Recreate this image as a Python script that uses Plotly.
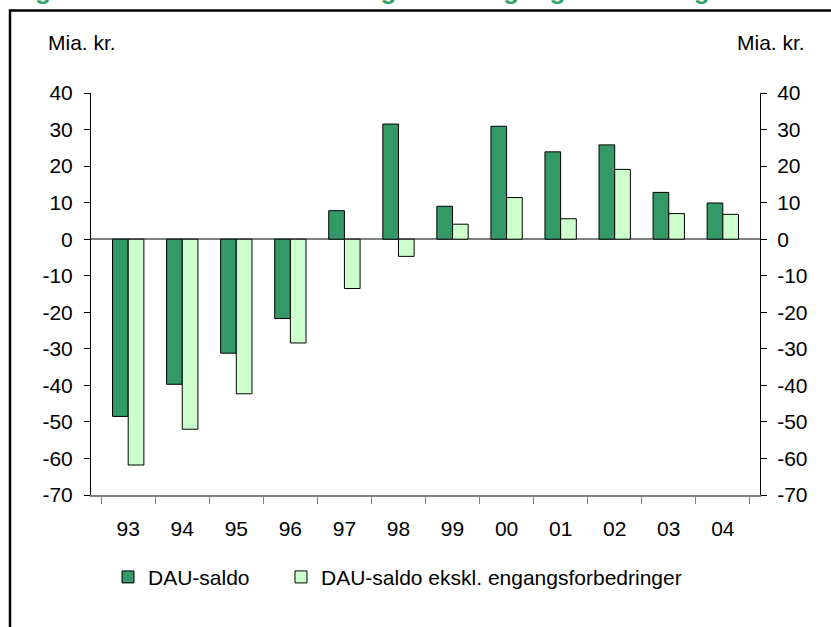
import plotly.graph_objects as go

years = ["93", "94", "95", "96", "97", "98", "99", "00", "01", "02", "03", "04"]
dau_saldo = [-48.5, -39.7, -31.2, -21.7, 7.8, 31.5, 9.0, 30.9, 23.9, 25.8, 12.8, 9.9]
dau_ekskl = [-61.8, -52.0, -42.3, -28.4, -13.5, -4.7, 4.1, 11.4, 5.6, 19.1, 7.0, 6.8]
names = ["DAU-saldo", "DAU-saldo ekskl. engangsforbedringer"]
y_ticks = [40, 30, 20, 10, 0, -10, -20, -30, -40, -50, -60, -70]
y_tick_labels = ["40", "30", "20", "10", "0", "-10", "-20", "-30", "-40", "-50", "-60", "-70"]
unit_label = "Mia. kr."
title_text = "Figur 3.4\u00a0\u00a0\u00a0\u00a0\u00a0\u00a0DAU-saldo med og uden engangsforbedringer"

W, H = 831, 627
L, R, T, B = 91, 71, 92.5, 132.3
pw, ph = W - L - R, H - T - B

def px(x):
    return (x - L) / pw

def py(y):
    return (H - B - y) / ph

FONT = "Liberation Sans, Arial, sans-serif"

fig = go.Figure()
fig.add_trace(go.Bar(x=years, y=dau_saldo, name=names[0], legend="legend",
                     marker=dict(color="#339966", line=dict(color="black", width=1))))
fig.add_trace(go.Bar(x=years, y=dau_ekskl, name=names[1], legend="legend2",
                     marker=dict(color="#CCFFCC", line=dict(color="black", width=1))))
fig.add_trace(go.Scatter(x=years, y=dau_saldo, yaxis="y2", mode="markers",
                         marker=dict(opacity=0), showlegend=False, hoverinfo="skip"))

legend_common = dict(orientation="h", xanchor="left", y=py(577), yanchor="middle",
                     font=dict(size=21), bgcolor="rgba(0,0,0,0)")

fig.update_layout(
    width=W, height=H,
    margin=dict(l=L, r=R, t=T, b=B),
    paper_bgcolor="white", plot_bgcolor="white",
    barmode="group", bargap=0.42, bargroupgap=0,
    font=dict(family=FONT, size=21, color="black"),
    showlegend=True,
    legend=dict(x=px(108), **legend_common),
    legend2=dict(x=px(281), **legend_common),
    xaxis=dict(type="category", showline=True, linecolor="#808080", linewidth=2,
               ticks="outside", ticklen=7, tickcolor="#808080", tickwidth=1,
               tickson="boundaries", showgrid=False, zeroline=False,
               tickfont=dict(size=21), ticklabelstandoff=14),
    yaxis=dict(range=[-70, 40], tickvals=y_ticks, ticktext=y_tick_labels,
               showline=True, linecolor="black", linewidth=1,
               ticks="outside", ticklen=6, tickcolor="black", showgrid=False,
               zeroline=True, zerolinecolor="#808080", zerolinewidth=2,
               tickfont=dict(size=21), ticklabelstandoff=7),
    yaxis2=dict(range=[-70, 40], tickvals=y_ticks, ticktext=y_tick_labels,
                overlaying="y", side="right",
                showline=True, linecolor="black", linewidth=1,
                ticks="outside", ticklen=6, tickcolor="black", showgrid=False,
                zeroline=False, tickfont=dict(size=21), ticklabelstandoff=6),
    shapes=[dict(type="rect", xref="paper", yref="paper",
                 x0=px(10), x1=px(900), y0=py(700), y1=py(10),
                 line=dict(color="black", width=2.5), fillcolor="rgba(0,0,0,0)")],
    annotations=[
        dict(text=unit_label, xref="paper", yref="paper", x=px(46), y=py(42),
             xanchor="left", yanchor="middle", showarrow=False, font=dict(size=21)),
        dict(text=unit_label, xref="paper", yref="paper", x=px(807), y=py(42),
             xanchor="right", yanchor="middle", showarrow=False, font=dict(size=21)),
        dict(text="<b>" + title_text + "</b>", xref="paper", yref="paper",
             x=px(10), y=py(6), xanchor="left", yanchor="bottom", showarrow=False,
             font=dict(size=26, color="#33A066")),
    ],
)

fig.write_html("out.html", config={"displayModeBar": False},
               post_script="document.body.style.margin='0';")
